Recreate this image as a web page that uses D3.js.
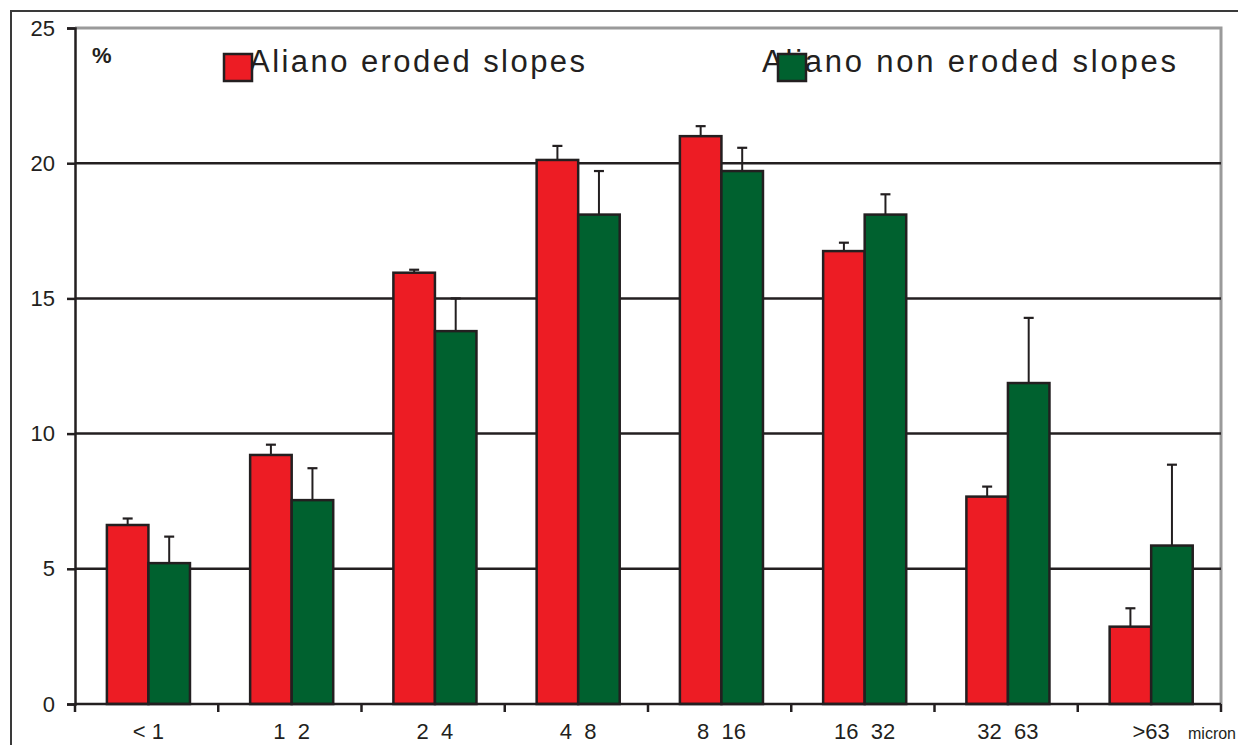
<!DOCTYPE html>
<html>
<head>
<meta charset="utf-8">
<script src="https://cdn.jsdelivr.net/npm/d3@7/dist/d3.min.js"></script>
<style>
  html, body { margin: 0; padding: 0; background: #fff; }
  svg { display: block; }
  text { font-family: "Liberation Sans", Arial, sans-serif; fill: #231f20; }
</style>
</head>
<body>
<svg id="chart" width="1238" height="745"></svg>
<script>
// Particle-size classes (micron)
const categories = ["< 1", "1  2", "2  4", "4  8", "8  16", "16  32", "32  63", ">63"];
const seriesNames = ["Aliano eroded slopes", "Aliano non eroded slopes"];
const seriesColors = ["#ed1c24", "#00612f"];

// Mean percentages per class
const erodedValues    = [6.62, 9.21, 15.95, 20.12, 21.0, 16.75, 7.67, 2.86];
const nonErodedValues = [5.21, 7.54, 13.79, 18.10, 19.71, 18.10, 11.87, 5.86];
// Upper end of the error bars
const erodedErrTop    = [6.86, 9.59, 16.06, 20.64, 21.37, 17.06, 8.04, 3.54];
const nonErodedErrTop = [6.19, 8.72, 15.0, 19.71, 20.57, 18.85, 14.28, 8.85];

const yTicks = [0, 5, 10, 15, 20, 25];

const svg = d3.select("#chart");
const ink = "#231f20";

const plot = { left: 75, right: 1221, top: 28, bottom: 704 };

const x0 = d3.scaleBand()
  .domain(categories)
  .range([plot.left, plot.right])
  .paddingInner(0.42)
  .paddingOuter(0.21)
  .align(0.53);

const x1 = d3.scaleBand()
  .domain(seriesNames)
  .range([0, x0.bandwidth()]);

const y = d3.scaleLinear().domain([0, 25]).range([plot.bottom, plot.top]);

// Outer frame
svg.append("path")
  .attr("d", `M11,745 L11,11 L1238,11`)
  .attr("fill", "none").attr("stroke", "#3a3a3a").attr("stroke-width", 2);

// Plot area border (top and right, grey)
svg.append("path")
  .attr("d", `M${plot.left},${plot.top} L${plot.right},${plot.top} L${plot.right},${plot.bottom}`)
  .attr("fill", "none").attr("stroke", "#9a9a9a").attr("stroke-width", 3);

// Horizontal gridlines
svg.append("g").selectAll("line")
  .data(yTicks.filter(t => t > 0 && t < 25))
  .join("line")
  .attr("x1", plot.left).attr("x2", plot.right)
  .attr("y1", d => y(d)).attr("y2", d => y(d))
  .attr("stroke", ink).attr("stroke-width", 2.5);

// Y axis
const yAxis = svg.append("g")
  .attr("transform", `translate(${plot.left},0)`)
  .call(d3.axisLeft(y).tickValues(yTicks).tickSize(8).tickPadding(12).tickFormat(d3.format("d")));
yAxis.select(".domain").attr("stroke", ink).attr("stroke-width", 2.5);
yAxis.selectAll(".tick line").attr("stroke", ink).attr("stroke-width", 2.5);
yAxis.selectAll(".tick text")
  .attr("font-size", 22).attr("fill", ink)
  .style("font-family", "'Liberation Sans', Arial, sans-serif");

// Bars
const groups = svg.append("g").selectAll("g")
  .data(categories.map((c, i) => ({
    cat: c,
    vals: [
      { s: seriesNames[0], v: erodedValues[i], e: erodedErrTop[i] },
      { s: seriesNames[1], v: nonErodedValues[i], e: nonErodedErrTop[i] }
    ]
  })))
  .join("g")
  .attr("transform", d => `translate(${x0(d.cat)},0)`);

// Error bars (upper only)
groups.selectAll("line.err")
  .data(d => d.vals)
  .join("line")
  .attr("class", "err")
  .attr("x1", d => x1(d.s) + x1.bandwidth() / 2)
  .attr("x2", d => x1(d.s) + x1.bandwidth() / 2)
  .attr("y1", d => y(d.v)).attr("y2", d => y(d.e))
  .attr("stroke", ink).attr("stroke-width", 2);
groups.selectAll("line.cap")
  .data(d => d.vals)
  .join("line")
  .attr("class", "cap")
  .attr("x1", d => x1(d.s) + x1.bandwidth() / 2 - 5)
  .attr("x2", d => x1(d.s) + x1.bandwidth() / 2 + 5)
  .attr("y1", d => y(d.e)).attr("y2", d => y(d.e))
  .attr("stroke", ink).attr("stroke-width", 2.2);

groups.selectAll("rect")
  .data(d => d.vals)
  .join("rect")
  .attr("x", d => x1(d.s))
  .attr("y", d => y(d.v))
  .attr("width", x1.bandwidth())
  .attr("height", d => y(0) - y(d.v))
  .attr("fill", (d, i) => seriesColors[i])
  .attr("stroke", ink).attr("stroke-width", 2.5);

// X axis line and boundary ticks
svg.append("line")
  .attr("x1", plot.left).attr("x2", plot.right)
  .attr("y1", plot.bottom).attr("y2", plot.bottom)
  .attr("stroke", ink).attr("stroke-width", 2.5);
const step = (plot.right - plot.left) / categories.length;
const boundaries = d3.range(categories.length + 1).map(i => plot.left + i * step);
svg.append("g").selectAll("line")
  .data(boundaries)
  .join("line")
  .attr("x1", d => d).attr("x2", d => d)
  .attr("y1", plot.bottom).attr("y2", plot.bottom + 8)
  .attr("stroke", ink).attr("stroke-width", 2.5);

// Category labels
svg.append("g").selectAll("text")
  .data(categories)
  .join("text")
  .attr("x", d => x0(d) + x0.bandwidth() / 2)
  .attr("y", 739)
  .attr("text-anchor", "middle")
  .attr("font-size", 22)
  .style("white-space", "pre")
  .attr("xml:space", "preserve")
  .text(d => d);

svg.append("text")
  .attr("x", 1188).attr("y", 739)
  .attr("font-size", 16)
  .text("micron");

// Unit label
svg.append("text")
  .attr("x", 92).attr("y", 63)
  .attr("font-size", 22).attr("font-weight", "bold")
  .text("%");

// Legend
const legend = [
  { name: seriesNames[0], color: seriesColors[0], tx: 249, tw: 336, sx: 224 },
  { name: seriesNames[1], color: seriesColors[1], tx: 762, tw: 414, sx: 778 }
];
legend.forEach(l => {
  svg.append("text")
    .attr("x", l.tx).attr("y", 72)
    .attr("font-size", 31)
    .attr("textLength", l.tw)
    .attr("lengthAdjust", "spacing")
    .text(l.name);
  svg.append("rect")
    .attr("x", l.sx).attr("y", 54)
    .attr("width", 28).attr("height", 27)
    .attr("fill", l.color)
    .attr("stroke", ink).attr("stroke-width", 2.5);
});
</script>
</body>
</html>
